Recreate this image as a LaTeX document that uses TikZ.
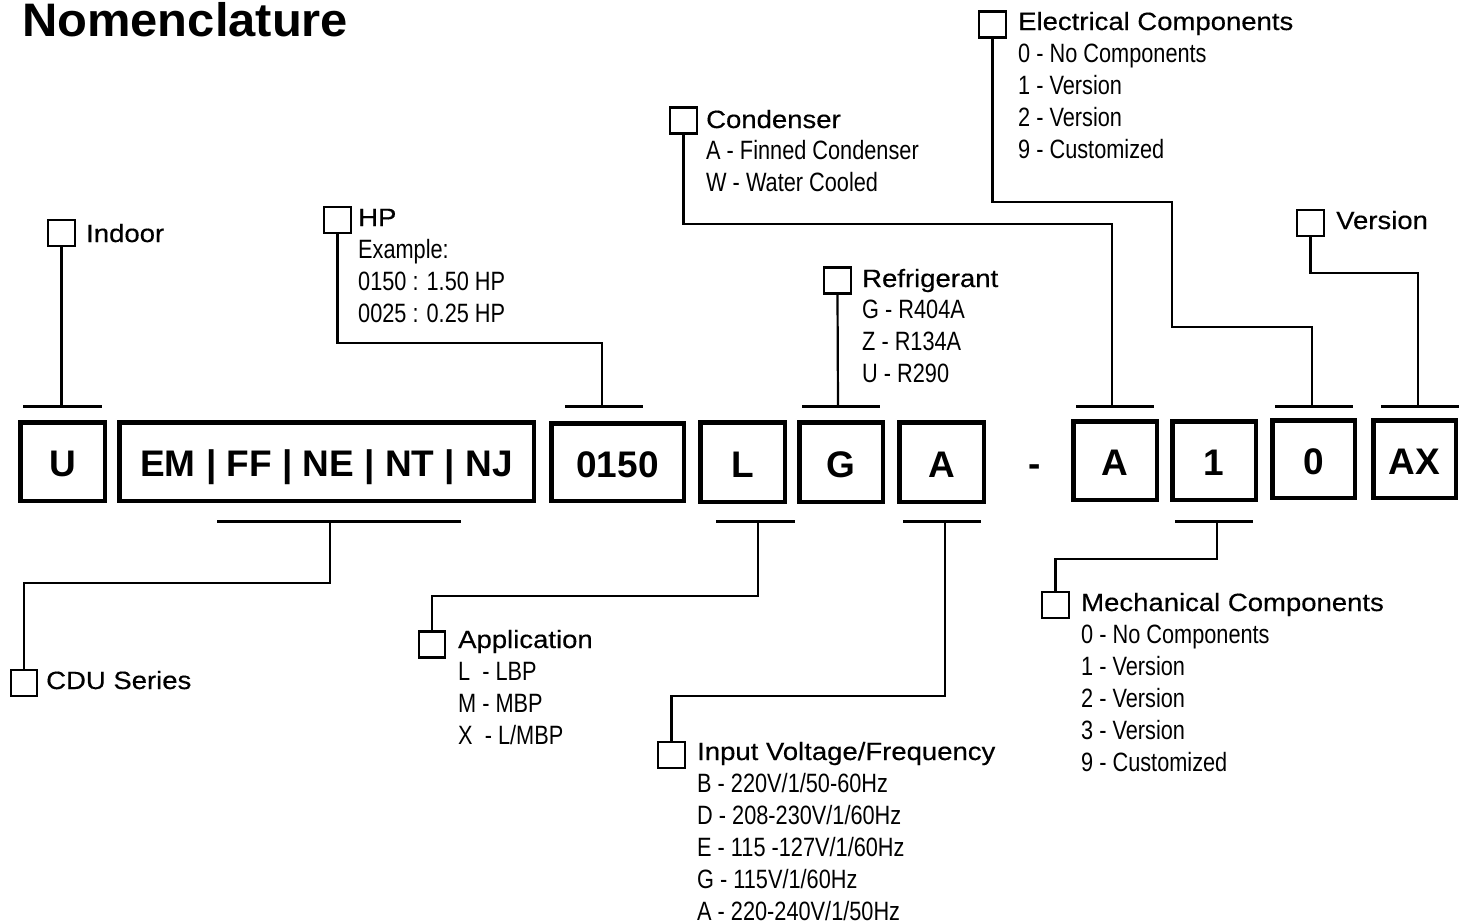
\documentclass[tikz,border=0pt]{standalone}
\usepackage{fontspec}
\setmainfont{Liberation Sans}
\newfontfamily\titlefont[FakeStretch=1.04]{Liberation Sans Bold}
\newfontfamily\headfont[FakeStretch=1.1,FakeBold=0.4]{Liberation Sans}
\newfontfamily\subfont[FakeStretch=0.82]{Liberation Sans}
\begin{document}
\begin{tikzpicture}[x=1pt,y=-1pt,
  mainbox/.style={draw, line width=4.5pt, inner sep=0pt,
    font=\fontsize{37}{40}\selectfont\bfseries, text height=30pt, text depth=0pt},
  smallbox/.style={draw, line width=2.4pt, inner sep=0pt, minimum width=26.5pt, minimum height=26pt},
  head/.style={anchor=base west, inner sep=0pt, font=\headfont\fontsize{25}{30}\selectfont},
  sub/.style={anchor=base west, inner sep=0pt, font=\subfont\fontsize{26.5}{30}\selectfont},
  conn/.style={line width=2.2pt},
  tick/.style={line width=3pt}]
\useasboundingbox (0,0) rectangle (1468,924);

% title
\node[anchor=base west, inner sep=0pt, font=\titlefont\fontsize{47}{50}\selectfont] (title) at (22,36) {Nomenclature};

% main code boxes
\node[mainbox, minimum width=84.5pt, minimum height=78.5pt] (mU) at (62.5,461.5) {U};
\node[mainbox, minimum width=414.5pt, minimum height=78.5pt] (mEM) at (326.5,461.5) {EM | FF | NE | NT | NJ};
\node[mainbox, minimum width=132.5pt, minimum height=77.5pt] (mHP) at (617.5,462) {0150};
\node[mainbox, minimum width=84.5pt, minimum height=79.5pt] (mL) at (742.5,462) {L};
\node[mainbox, minimum width=83.5pt, minimum height=79.5pt] (mG) at (841,462) {G};
\node[mainbox, minimum width=84.5pt, minimum height=79.5pt] (mA) at (941.5,462) {A};
\node[anchor=base, inner sep=0pt, font=\fontsize{37}{40}\selectfont\bfseries] (dash) at (1035,476) {-};
\node[mainbox, minimum width=83.5pt, minimum height=78.5pt] (mA2) at (1115,460.5) {A};
\node[mainbox, minimum width=83.5pt, minimum height=78.5pt] (m1) at (1214,460.5) {1};
\node[mainbox, minimum width=82.5pt, minimum height=77.5pt] (m0) at (1313.5,459) {0};
\node[mainbox, minimum width=82.5pt, minimum height=77.5pt] (mAX) at (1414.5,459) {AX};

% ticks (top)
\draw[tick] (23,406) -- (102,406);
\draw[tick] (565,406) -- (643,406);
\draw[tick] (802,406) -- (880,406);
\draw[tick] (1076,406) -- (1154,406);
\draw[tick] (1275,406) -- (1353,406);
\draw[tick] (1381,406) -- (1459,406);
% ticks (bottom)
\draw[tick] (217,521) -- (461,521);
\draw[tick] (716,521) -- (795,521);
\draw[tick] (903,521) -- (981,521);
\draw[tick] (1175,521) -- (1253,521);

\coordinate (tU) at (61,406);
\coordinate (tHP) at (602,406);
\coordinate (tG) at (838,406);
\coordinate (tA2) at (1112,406);
\coordinate (t0) at (1312,406);
\coordinate (tAX) at (1418,406);
\coordinate (bEM) at (330,521);
\coordinate (bL) at (758,521);
\coordinate (bA) at (945,521);
\coordinate (b1) at (1217,521);

% small label boxes
\node[smallbox] (sInd) at (61.5,233) {};
\node[smallbox] (sHP) at (337.5,220) {};
\node[smallbox] (sCond) at (683.5,120.5) {};
\node[smallbox] (sElec) at (992.5,24.5) {};
\node[smallbox] (sVer) at (1310.5,223) {};
\node[smallbox] (sRef) at (837.5,280.5) {};
\node[smallbox] (sCDU) at (24,683) {};
\node[smallbox] (sApp) at (432,644.5) {};
\node[smallbox] (sIn) at (671.5,755) {};
\node[smallbox] (sMech) at (1055.5,605) {};

% headings
\node[head] (hInd) at (86,242) {Indoor};
\node[head] (hHP) at (358,226) {HP};
\node[head] (hCond) at (706,128) {Condenser};
\node[head] (hElec) at (1018,30) {Electrical Components};
\node[head] (hVer) at (1336,229) {Version};
\node[head] (hRef) at (862,287) {Refrigerant};
\node[head] (hCDU) at (46,689) {CDU Series};
\node[head] (hApp) at (458,648) {Application};
\node[head] (hIn) at (697,760) {Input Voltage/Frequency};
\node[head] (hMech) at (1081,611) {Mechanical Components};

% option lists
\foreach \t [count=\i] in {Example:, 0150 : 1.50 HP, 0025 : 0.25 HP}
  \node[sub] (lHP\i) at (358,226+32*\i) {\t};
\foreach \t [count=\i] in {A - Finned Condenser, W - Water Cooled}
  \node[sub] (lCond\i) at (706,128+31.5*\i) {\t};
\foreach \t [count=\i] in {0 - No Components, 1 - Version, 2 - Version, 9 - Customized}
  \node[sub] (lElec\i) at (1018,30+32*\i) {\t};
\foreach \t [count=\i] in {G - R404A, Z - R134A, U - R290}
  \node[sub] (lRef\i) at (862,287+31.7*\i) {\t};
\foreach \t [count=\i] in {L\ \ - LBP, M - MBP, X\ \ - L/MBP}
  \node[sub] (lApp\i) at (458,648+32*\i) {\t};
\foreach \t [count=\i] in {B - 220V/1/50-60Hz, D - 208-230V/1/60Hz, E - 115 -127V/1/60Hz, G - 115V/1/60Hz, A - 220-240V/1/50Hz}
  \node[sub] (lIn\i) at (697,760+32*\i) {\t};
\foreach \t [count=\i] in {0 - No Components, 1 - Version, 2 - Version, 3 - Version, 9 - Customized}
  \node[sub] (lMech\i) at (1081,611+32*\i) {\t};

% connectors
\draw[conn] (sInd.south) -- (sInd.south |- tU);
\draw[conn] (sHP.south) |- (602,343) -- (tHP);
\draw[conn] (sCond.south) |- (1112,224) -- (tA2);
\draw[conn] (sElec.south) |- (1172,202) |- (1312,327) -- (t0);
\draw[conn] (sVer.south) |- (1418,273) -- (tAX);
\draw[conn] (sRef.south) -- (tG);
\draw[conn] (bEM) -- (330,583) -| (sCDU.north);
\draw[conn] (bL) -- (758,596) -| (sApp.north);
\draw[conn] (bA) -- (945,696) -| (sIn.north);
\draw[conn] (b1) -- (1217,559) -| (sMech.north);
\end{tikzpicture}
\end{document}
